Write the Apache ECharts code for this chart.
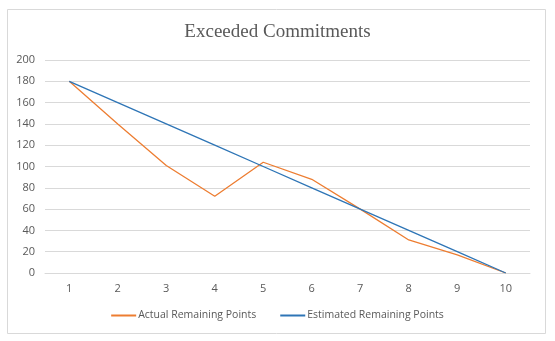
<!DOCTYPE html>
<html>
<head>
<meta charset="utf-8">
<script src="https://cdn.jsdelivr.net/npm/echarts@6/dist/echarts.min.js"></script>
<style>html,body{margin:0;padding:0;background:#fff}#c{width:555px;height:341px}</style>
</head>
<body>
<div id="c"></div>
<script>
var categories = ['1','2','3','4','5','6','7','8','9','10'];
var actualRemaining = [180, 140, 101, 72, 104, 88, 60, 31, 17, 0];
var estimatedRemaining = [180, 160, 140, 120, 100, 80, 60, 40, 20, 0];
var seriesNames = ['Actual Remaining Points', 'Estimated Remaining Points'];
var titleText = 'Exceeded Commitments';

var chart = echarts.init(document.getElementById('c'), null, {renderer: 'canvas'});
var labelFont = {color: '#595959', fontSize: 11, fontFamily: 'Open Sans'};
chart.setOption({
  animation: false,
  backgroundColor: '#ffffff',
  graphic: [{
    type: 'rect', left: 7, top: 9, z: -1,
    shape: {width: 538, height: 324},
    style: {fill: '#fff', stroke: '#d9d9d9', lineWidth: 1}
  }],
  title: {
    text: titleText, left: 'center', top: 18,
    textStyle: {fontFamily: 'Liberation Serif', fontSize: 19, fontWeight: 'normal', color: '#595959'}
  },
  legend: {
    bottom: 15, left: 'center', itemWidth: 25, itemHeight: 2, itemGap: 24,
    icon: 'rect',
    textStyle: {color: '#595959', fontSize: 10.5, fontFamily: 'Open Sans', padding: [0,0,0,-3]},
    data: seriesNames
  },
  grid: {left: 45, right: 25, top: 60, bottom: 68},
  xAxis: {
    type: 'category', data: categories, boundaryGap: true,
    axisLine: {show: true, lineStyle: {color: '#d9d9d9'}},
    axisTick: {show: false},
    axisLabel: Object.assign({margin: 10}, labelFont)
  },
  yAxis: {
    type: 'value', min: 0, max: 200, interval: 20,
    axisLine: {show: false}, axisTick: {show: false},
    splitLine: {lineStyle: {color: '#d9d9d9'}},
    axisLabel: Object.assign({margin: 10}, labelFont)
  },
  series: [
    {name: seriesNames[0], type: 'line', data: actualRemaining, showSymbol: false, symbol: 'none',
     lineStyle: {color: '#ED7D31', width: 1.3}, itemStyle: {color: '#ED7D31'}},
    {name: seriesNames[1], type: 'line', data: estimatedRemaining, showSymbol: false, symbol: 'none',
     lineStyle: {color: '#2E75B6', width: 1.3}, itemStyle: {color: '#2E75B6'}}
  ]
});
</script>
</body>
</html>
